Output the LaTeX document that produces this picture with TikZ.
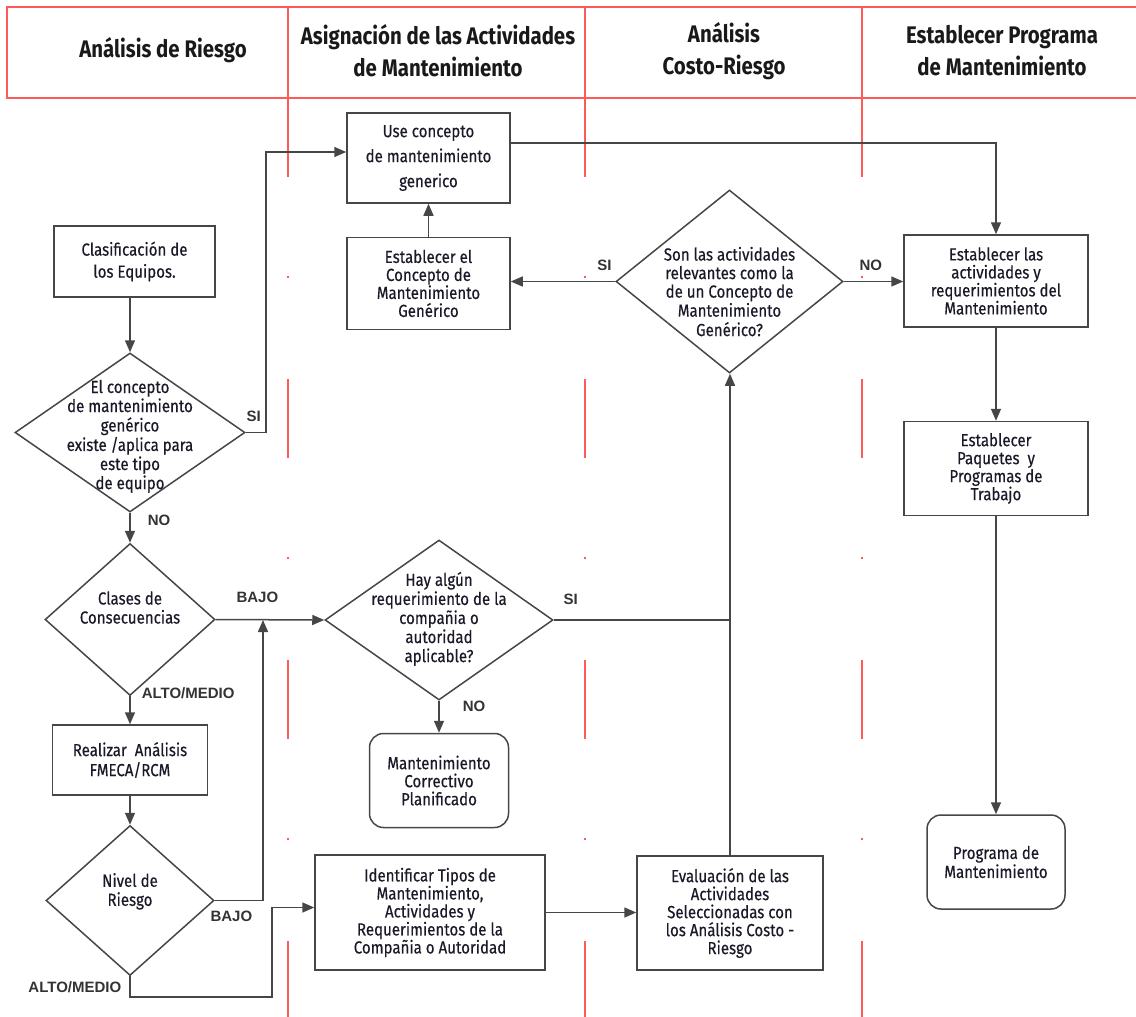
\documentclass[tikz,border=0pt]{standalone}
\usepackage{fontspec}
\setmainfont{Fira Sans}[FakeStretch=0.86, FakeBold=0.4]
\newfontfamily\titlefamily{Fira Sans}[FakeStretch=0.85]
\newfontfamily\answerfamily{Liberation Sans}
\usetikzlibrary{shapes.geometric,
                arrows.meta,
                positioning}
\definecolor{lanered}{RGB}{255,90,90}
\definecolor{inkgray}{RGB}{70,70,70}
\definecolor{txtdark}{RGB}{25,25,40}
% text of a decision: no size of its own, so the diamond keeps its minimum size
\newcommand{\qtext}[2][-4pt]{\raisebox{#1}[0pt][0pt]{\makebox[0pt]{\begin{tabular}{@{}c@{}}#2\end{tabular}}}}
\tikzset{lane/.style =
   {draw=lanered,
    line width=1.4pt}}
\tikzset{lanedash/.style =
   {lane,
    dash pattern=on 79pt off 99pt on 2pt off 101pt}}
\tikzset{lanetitle/.style =
   {font=\titlefamily\fontsize{24}{32}\selectfont\bfseries,
    text=black!90,
    align=center}}
\tikzset{task/.style =
   {rectangle,
    draw=inkgray,
    line width=1.5pt,
    text=txtdark,
    align=center,
    inner sep=2pt,
    font=\fontsize{17.5}{18}\selectfont}}
\tikzset{terminal/.style =
   {task,
    rounded corners=14pt}}
\tikzset{decision/.style =
   {diamond,
    draw=inkgray,
    line width=1.5pt,
    text=txtdark,
    inner sep=0pt,
    font=\fontsize{17.5}{18}\selectfont}}
\tikzset{answer/.style =
   {font=\answerfamily\fontsize{15}{17}\selectfont\bfseries,
    text=black!80,
    inner sep=0pt}}
\tikzset{arrow/.style = {draw=inkgray, line width=1.5pt, -{Triangle[length=12pt,width=10pt]}}}
\tikzset{link/.style = {draw=inkgray, line width=1.5pt}}

\begin{document}
\begin{tikzpicture}[x=1pt, y=-1pt]

    \useasboundingbox (0,0) rectangle (1136,1017);

    % swimlanes
    \draw[lane] (1136,7) -- (7,7) -- (7,98) -- (1136,98);
    \foreach \lx in {288,585,862} {
        \draw[lane] (\lx,7) -- (\lx,98);
        \draw[lanedash] (\lx,98) -- (\lx,1017);
    }

    \node [lanetitle] (hRisk) at (163,50) {Análisis de Riesgo};
    \node [lanetitle] (hAsign) at (438,51) {Asignación de las Actividades\\de Mantenimiento};
    \node [lanetitle] (hCost) at (724,51) {Análisis\\Costo-Riesgo};
    \node [lanetitle] (hProg) at (1002,51) {Establecer Programa\\de Mantenimiento};

    % first lane
    \node [task,
           minimum width=161pt,
           minimum height=71pt] (clasif) at (134.5,261.5)
    {Clasificación de\\[4pt]los Equipos.};

    \node [decision,
           minimum width=230pt,
           minimum height=159pt] (exist) at (130,432.5)
    {\qtext[-9pt]{El concepto\\de mantenimiento\\genérico\\existe /aplica para\\este tipo\\de equipo}};

    \node [decision,
           minimum width=170pt,
           minimum height=152pt,
           below = 30pt of exist] (conseq)
    {\qtext[5pt]{Clases de\\Consecuencias}};

    \node [task,
           minimum width=155pt,
           minimum height=70pt,
           below = 28pt of conseq] (fmeca)
    {Realizar~ Análisis\\[2pt]FMECA/RCM};

    \node [decision,
           minimum width=168pt,
           minimum height=150pt,
           below = 29pt of fmeca] (level)
    {\qtext[4pt]{Nivel de\\Riesgo}};

    % second lane
    \node [task,
           minimum width=163pt,
           minimum height=90pt] (generic) at (428.5,158)
    {Use concepto\\[7pt]de mantenimiento\\[7pt]generico};

    \node [task,
           minimum width=163pt,
           minimum height=92pt,
           below = 33pt of generic] (concept)
    {Establecer el\\Concepto de\\Mantenimiento\\Genérico};

    \node [decision,
           minimum width=228pt,
           minimum height=160pt] (require) at (439,620)
    {\qtext{Hay algún\\requerimiento de la\\compañia o\\autoridad\\aplicable?}};

    \node [terminal,
           minimum width=139pt,
           minimum height=94pt,
           below = 32pt of require] (corrective)
    {Mantenimiento\\Correctivo\\Planificado};

    \node [task,
           minimum width=230pt,
           minimum height=115pt] (identify) at (430,912.5)
    {Identificar Tipos de\\Mantenimiento,\\Actividades y\\Requerimientos de la\\Compañia o Autoridad};

    % third lane
    \node [decision,
           minimum width=227pt,
           minimum height=183pt] (relevant) at (729.5,281.5)
    {\qtext[-17pt]{Son las actividades\\relevantes como la\\de un Concepto de\\Mantenimiento\\Genérico?}};

    \node [task,
           minimum width=186pt,
           minimum height=114pt] (evaluate) at (730,913)
    {Evaluación de las\\Actividades\\Seleccionadas con\\los Análisis Costo -\\Riesgo};

    % fourth lane
    \node [task,
           minimum width=184pt,
           minimum height=92pt] (activities) at (996,281)
    {Establecer las\\actividades y\\requerimientos del\\Mantenimiento};

    \node [task,
           minimum width=184pt,
           minimum height=94pt,
           below = 93pt of activities] (packages)
    {Establecer\\Paquetes~ y\\Programas de\\Trabajo};

    \node [terminal,
           minimum width=138pt,
           minimum height=94pt,
           below = 298pt of packages] (program)
    {Programa de\\[1pt]Mantenimiento};

    \coordinate (bajoJoin) at (263,620);
    \coordinate (altoTurn) at (272,997);

    % connectors
    \draw[arrow] (clasif.south -| exist.north) -- (exist.north);
    \draw[arrow] (exist.east) node[answer, above right=10pt and 0pt] (siGeneric) {SI}
        -- ++(20,0) |- ([yshift=6pt]generic.west);
    \draw[arrow] (exist.south) node[answer, below right=2pt and 17pt] (noExist) {NO}
        -- (conseq.north);
    \draw[arrow] (conseq.east) node[answer, above right=16pt and 20pt] (bajoConseq) {BAJO}
        -- (require.west);
    \draw[arrow] (conseq.south) node[answer, anchor=west, xshift=11pt, yshift=3pt] (altoConseq) {ALTO/MEDIO}
        -- (conseq.south |- fmeca.north);
    \draw[arrow] (fmeca.south -| level.north) -- (level.north);
    \draw[arrow] (level.east) node[answer, below right=10pt and -5pt] (bajoLevel) {BAJO}
        -| (bajoJoin);
    \draw[arrow] (level.south) node[answer, below left=5pt and 8pt] (altoLevel) {ALTO/MEDIO}
        |- (altoTurn) |- ([yshift=5pt]identify.west);
    \draw[arrow] (require.south) node[answer, below right=0pt and 23pt] (noRequire) {NO}
        -- (corrective.north);
    \draw[link] (require.east) node[answer, above right=15pt and 9pt] (siRequire) {SI}
        -- (require.east -| evaluate.north);
    \draw[arrow] (identify.east) -- (identify.east -| evaluate.west);
    \draw[arrow] (evaluate.north) -- (evaluate.north |- relevant.south);
    \draw[arrow] (relevant.west) node[answer, above left=10pt and 3pt] (siRelevant) {SI}
        -- (relevant.west -| concept.east);
    \draw[arrow] (relevant.east) node[answer, above right=10pt and 15pt] (noRelevant) {NO}
        -- (relevant.east -| activities.west);
    \draw[arrow] (concept.north) -- (generic.south);
    \draw[arrow] ([yshift=15pt]generic.east) -| (activities.north);
    \draw[arrow] (activities.south) -- (packages.north);
    \draw[arrow] (packages.south) -- (packages.south |- program.north);

\end{tikzpicture}
\end{document}
